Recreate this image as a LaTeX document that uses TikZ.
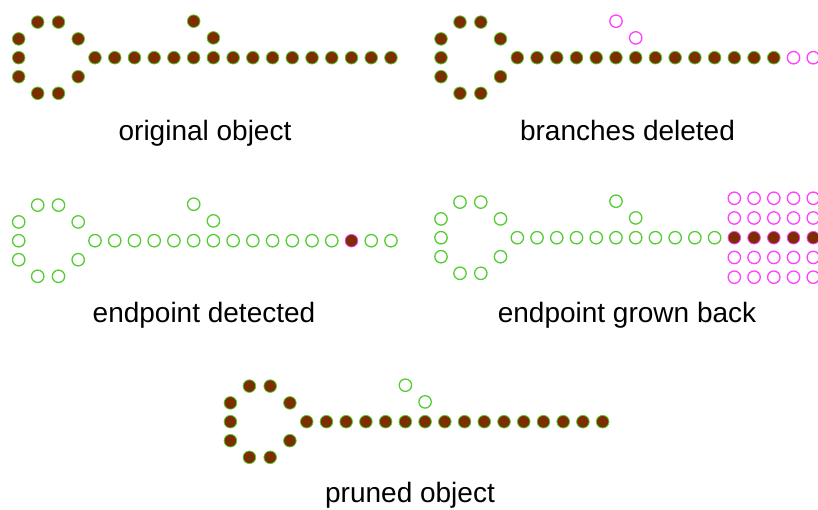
\documentclass[tikz,border=0pt]{standalone}
\usepackage{fontspec}
\setmainfont{Liberation Sans}
\definecolor{dotbrown}{RGB}{125,45,0}
\definecolor{rimgreen}{RGB}{85,204,51}
\definecolor{rimpink}{RGB}{255,64,255}

% ring of the loop, relative to the first stem pixel
\newcommand\ringlist{-76.3/-18.8, -76.3/0, -76.3/19, -57.3/-35.6, -36.5/-35.6, -16.8/-18.8, -16.8/19, -57.3/35.6, -36.5/35.6}
\newcommand\pitch{19.73}

\begin{document}
\begin{tikzpicture}[x=1pt,y=-1pt,
  fdot/.style={circle,inner sep=0pt,minimum size=12.6pt,line width=0.8pt,fill=dotbrown,draw=rimgreen},
  fdotm/.style={fdot,draw=rimpink},
  ogrn/.style={circle,inner sep=0pt,minimum size=12.4pt,line width=1.3pt,draw=rimgreen},
  opnk/.style={ogrn,draw=rimpink},
  figtext/.style={anchor=base,inner sep=0pt,font=\fontsize{28pt}{32pt}\selectfont}]
\clip (0,0) rectangle (818,509);

% original object
\begin{scope}[shift={(95,57.7)}]
  \foreach \x/\y [count=\i] in \ringlist \node[fdot] (a-r\i) at (\x,\y) {};
  \foreach \k in {0,...,15} \node[fdot] (a-s\k) at (\k*\pitch,0) {};
  \node[fdot] (a-b1) at (98.7,-36.5) {};
  \node[fdot] (a-b2) at (118.4,-19.8) {};
\end{scope}
\node[figtext] (t-a) at (205,140) {original object};

% branches deleted
\begin{scope}[shift={(517.3,57.7)}]
  \foreach \x/\y [count=\i] in \ringlist \node[fdot] (b-r\i) at (\x,\y) {};
  \foreach \k in {0,...,13} \node[fdot] (b-s\k) at (\k*\pitch,0) {};
  \foreach \k in {14,15} \node[opnk] (b-s\k) at (\k*\pitch,0) {};
  \node[opnk] (b-b1) at (98.7,-36.5) {};
  \node[opnk] (b-b2) at (118.4,-19.8) {};
\end{scope}
\node[figtext] (t-b) at (627.5,140) {branches deleted};

% endpoint detected
\begin{scope}[shift={(95,240.7)}]
  \foreach \x/\y [count=\i] in \ringlist \node[ogrn] (c-r\i) at (\x,\y) {};
  \foreach \k in {0,...,12,14,15} \node[ogrn] (c-s\k) at (\k*\pitch,0) {};
  \node[fdotm] (c-s13) at (13*\pitch,0) {};
  \node[ogrn] (c-b1) at (98.7,-36.5) {};
  \node[ogrn] (c-b2) at (118.4,-19.8) {};
\end{scope}
\node[figtext] (t-c) at (204,322.5) {endpoint detected};

% endpoint grown back
\begin{scope}[shift={(517.3,237.7)}]
  \foreach \x/\y [count=\i] in \ringlist \node[ogrn] (d-r\i) at (\x,\y) {};
  \foreach \k in {0,...,10} \node[ogrn] (d-s\k) at (\k*\pitch,0) {};
  \foreach \k in {11,...,15} {
    \node[fdotm] (d-s\k) at (\k*\pitch,0) {};
    \foreach \j in {-2,-1,1,2} \node[opnk] (d-g\k-\j) at (\k*\pitch,\j*\pitch) {};
  }
  \node[ogrn] (d-b1) at (98.7,-36.5) {};
  \node[ogrn] (d-b2) at (118.4,-19.8) {};
\end{scope}
\node[figtext] (t-d) at (627,322.5) {endpoint grown back};

% pruned object
\begin{scope}[shift={(306.7,421.7)}]
  \foreach \x/\y [count=\i] in \ringlist \node[fdot] (e-r\i) at (\x,\y) {};
  \foreach \k in {0,...,15} \node[fdot] (e-s\k) at (\k*\pitch,0) {};
  \node[ogrn] (e-b1) at (98.7,-36.5) {};
  \node[ogrn] (e-b2) at (118.4,-19.8) {};
\end{scope}
\node[figtext] (t-e) at (410,502) {pruned object};
\end{tikzpicture}
\end{document}
